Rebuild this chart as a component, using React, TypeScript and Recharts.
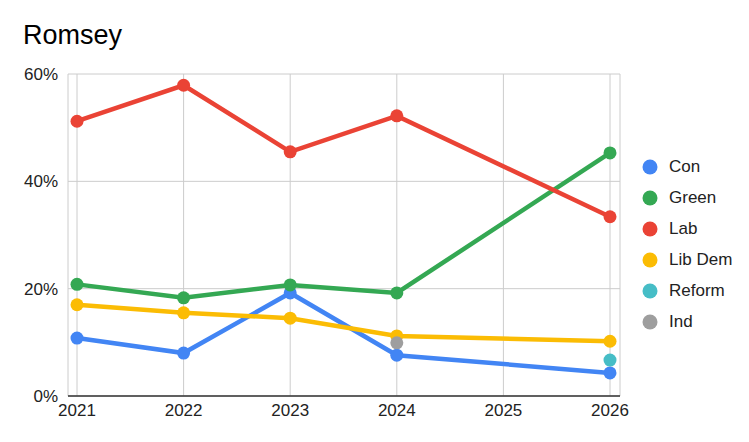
import React from "react";
import { LineChart, Line, XAxis, YAxis, CartesianGrid, Legend } from "recharts";

const years = [2021, 2022, 2023, 2024, 2025, 2026];
const con = [10.8, 8.0, 19.2, 7.6, null, 4.3];
const green = [20.8, 18.3, 20.7, 19.2, null, 45.3];
const lab = [51.2, 57.9, 45.5, 52.2, null, 33.4];
const libDem = [17.0, 15.5, 14.5, 11.2, null, 10.2];
const reform = [null, null, null, null, null, 6.7];
const ind = [null, null, null, 9.9, null, null];
const yTicks = [0, 20, 40, 60];

const seriesNames = ["Con", "Green", "Lab", "Lib Dem", "Reform", "Ind"];
const seriesColors = ["#4285F4", "#34A853", "#EA4335", "#FBBC04", "#46BDC6", "#9E9E9E"];
const seriesValues = [con, green, lab, libDem, reform, ind];

const data = years.map((year, i) => {
  const row: Record<string, number | null> = { year };
  seriesNames.forEach((name, s) => {
    row[name] = seriesValues[s][i];
  });
  return row;
});

const FONT = "'Liberation Sans', Arial, sans-serif";

const LegendContent = (props: any) => {
  const payload = [...(props.payload || [])].sort(
    (a: any, b: any) => seriesNames.indexOf(a.value) - seriesNames.indexOf(b.value)
  );
  return (
    <div style={{ fontFamily: FONT, fontSize: 17, color: "#222" }}>
      {payload.map((p: any) => (
        <div key={p.value} style={{ display: "flex", alignItems: "center", height: 31 }}>
          <svg width={16} height={16} style={{ marginRight: 11 }}>
            <circle cx={8} cy={8} r={7.5} fill={p.color} />
          </svg>
          <span>{p.value}</span>
        </div>
      ))}
    </div>
  );
};

export default function App() {
  return (
    <div style={{ position: "fixed", left: 0, top: 0, width: 749, height: 442, background: "#fff" }}>
      <div
        style={{
          position: "absolute",
          left: 23,
          top: 22,
          fontFamily: FONT,
          fontSize: 27,
          lineHeight: "27px",
          color: "#000",
        }}
      >
        Romsey
      </div>
      <LineChart
        width={749}
        height={442}
        data={data}
        margin={{ top: 74, right: 129, bottom: 16, left: 8 }}
      >
        <CartesianGrid stroke="#ccc" strokeWidth={1} />
        <XAxis
          dataKey="year"
          type="number"
          domain={[2021, 2026]}
          ticks={years}
          padding={{ left: 9, right: 10 }}
          height={30}
          tickSize={0}
          tickMargin={8}
          tick={{ fill: "#222", fontSize: 17, fontFamily: FONT }}
          axisLine={{ stroke: "#333", strokeWidth: 1.5 }}
          tickFormatter={(v: number) => String(v)}
        />
        <YAxis
          domain={[0, 60]}
          ticks={yTicks}
          width={60}
          tickSize={0}
          tickMargin={10}
          axisLine={false}
          tick={{ fill: "#222", fontSize: 17, fontFamily: FONT }}
          tickFormatter={(v: number) => `${v}%`}
        />
        <Legend
          layout="horizontal"
          verticalAlign="middle"
          align="center"
          content={<LegendContent />}
          wrapperStyle={{ left: 642, top: 151, width: 110 }}
        />
        {seriesNames.map((name, s) => (
          <Line
            key={name}
            type="linear"
            dataKey={name}
            stroke={seriesColors[s]}
            strokeWidth={4.5}
            connectNulls
            dot={{ r: 6.5, fill: seriesColors[s], stroke: seriesColors[s], strokeWidth: 0 }}
            activeDot={false}
            isAnimationActive={false}
          />
        ))}
      </LineChart>
    </div>
  );
}
